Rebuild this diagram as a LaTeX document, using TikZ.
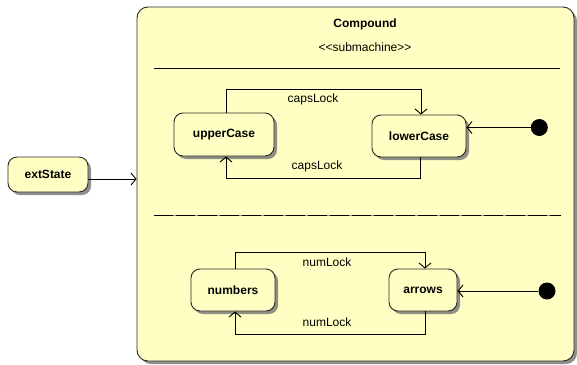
\documentclass[tikz,border=0pt]{standalone}
\usepackage{fontspec}
\setmainfont{Liberation Sans}
\usetikzlibrary{arrows.meta,shadows,calc}
\definecolor{stfill}{RGB}{255,255,196}
\definecolor{stline}{RGB}{40,40,40}
\begin{document}
\begin{tikzpicture}[x=1pt,y=-1pt,
  every node/.style={font=\fontsize{12}{14}\selectfont},
  state/.style={draw=stline,line width=0.9pt,fill=stfill,rounded corners=9pt,
    font=\fontsize{12}{14}\selectfont\bfseries,inner sep=0pt,
    drop shadow={shadow xshift=3pt,shadow yshift=-3pt,fill=black!55,opacity=0.8}},
  arr/.style={line width=0.9pt,draw=black,-{Straight Barb[length=5pt,width=12pt]}},
  initdot/.style={circle,fill=black,inner sep=0pt,minimum size=17pt},
  lbl/.style={inner sep=1pt}]
\useasboundingbox (0,0) rectangle (577,364);
% compound
\node[state,minimum width=437pt,minimum height=354pt,rounded corners=11pt] (compound) at (355.5,184) {};
\node[font=\fontsize{12}{14}\selectfont\bfseries] (title) at (365,24) {Compound};
\node (stereo) at (365,47) {{<}{<}submachine{>}{>}};
\draw[line width=0.9pt] (154,68) coordinate (s1a) -- (560,68) coordinate (s1b);
\draw[line width=0.9pt,black!45] (154,215.5) coordinate (s2a) -- (561,215.5) coordinate (s2b);
\draw[line width=0.9pt,dash pattern=on 19pt off 3pt] (s2a) -- (s2b);
% region 1
\node[state,minimum width=100pt,minimum height=43pt] (upperCase) at (224,134.5) {upperCase};
\node[state,minimum width=94pt,minimum height=42pt] (lowerCase) at (419,136) {lowerCase};
\node[initdot] (init1) at (539.3,127.5) {};
\draw[arr] (init1) -- (init1 -| lowerCase.east);
\draw[arr] ([xshift=2pt]upperCase.north) -- ++(0,-23) -| ([xshift=2pt]lowerCase.north);
\draw[arr] ([xshift=1pt]lowerCase.south) -- ++(0,21) -| ([xshift=2pt]upperCase.south);
\node[lbl] (cl1) at (313,99) {capsLock};
\node[lbl] (cl2) at (317,166) {capsLock};
% region 2
\node[state,minimum width=84pt,minimum height=42pt] (numbers) at (233,290) {numbers};
\node[state,minimum width=68pt,minimum height=42pt] (arrows) at (423,290) {arrows};
\node[initdot] (init2) at (547,291) {};
\draw[arr] (init2) -- (init2 -| arrows.east);
\draw[arr] ([xshift=2pt]numbers.north) -- ++(0,-16) -| ([xshift=2pt]arrows.north);
\draw[arr] ([xshift=2pt]arrows.south) -- ++(0,23) -| ([xshift=2pt]numbers.south);
\node[lbl] (nl1) at (327,262) {numLock};
\node[lbl] (nl2) at (327,322) {numLock};
% external
\node[state,minimum width=80pt,minimum height=35pt] (extState) at (48,174.5) {extState};
\draw[arr] ([yshift=-4.5pt]extState.east) -- ([yshift=-4.5pt]extState.east -| compound.west);
\end{tikzpicture}
\end{document}
